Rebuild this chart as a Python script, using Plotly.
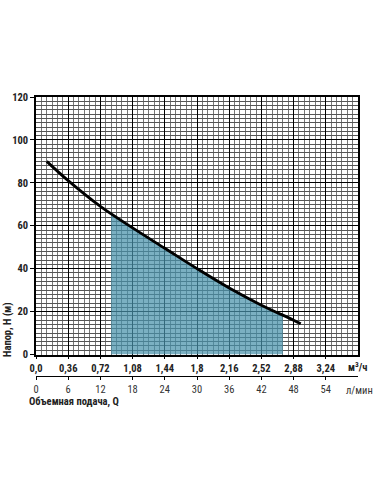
import plotly.graph_objects as go

# Performance curve (Q in m3/h, H in m)
q_curve = [0.12, 0.36, 0.72, 1.08, 1.44, 1.80, 2.16, 2.52, 2.88, 2.96]
h_curve = [90, 81, 69, 59, 49.5, 40, 31, 23, 16, 14.3]

# Recommended working range (shaded)
q_fill = [0.84, 1.08, 1.44, 1.80, 2.16, 2.52, 2.76]
h_fill = [65.5, 59, 49.5, 40, 31, 23, 18.5]

x_ticks = [0, 0.36, 0.72, 1.08, 1.44, 1.80, 2.16, 2.52, 2.88, 3.24]
x_ticktext = ["0,0", "0,36", "0,72", "1,08", "1,44", "1,8", "2,16", "2,52", "2,88", "3,24"]
lmin_ticks = [0, 6, 12, 18, 24, 30, 36, 42, 48, 54]
y_ticks = [0, 20, 40, 60, 80, 100, 120]

FONT = "Liberation Sans Narrow, Roboto Condensed, Roboto, sans-serif"
FS = 10.5
W, H = 381, 492
L, R, T, B = 36, 23, 97, 116
plot_h = H - T - B
ydom0 = (H - B - 354.5) / plot_h

fig = go.Figure()
fig.add_trace(go.Scatter(x=q_fill, y=h_fill, mode="lines", line=dict(width=0, shape="spline"),
                         fill="tozeroy", fillcolor="rgba(72,145,170,0.72)", hoverinfo="skip",
                         showlegend=False))
fig.add_trace(go.Scatter(x=q_curve, y=h_curve, mode="lines",
                         line=dict(color="black", width=2.8, shape="spline"), showlegend=False))
# invisible trace to bind the l/min axis
fig.add_trace(go.Scatter(x=[0, 60], y=[None, None], xaxis="x2", yaxis="y", mode="lines",
                         showlegend=False, hoverinfo="skip"))

fig.update_layout(
    width=W, height=H, margin=dict(l=L, r=R, t=T, b=B, autoexpand=False),
    paper_bgcolor="white", plot_bgcolor="white",
    font=dict(family=FONT, color="#222"),
    xaxis=dict(range=[0, 3.6], tickvals=x_ticks, ticktext=x_ticktext, automargin=False,
               tickfont=dict(size=FS, family=FONT, weight="bold", color="#222"),
               showline=True, linecolor="black", linewidth=1.6, mirror=True,
               ticks="outside", ticklen=3, tickcolor="black", tickwidth=1.2,
               showgrid=True, gridcolor="black", gridwidth=1.4,
               minor=dict(dtick=0.06, tick0=0, showgrid=True, gridcolor="#777", gridwidth=0.9),
               zeroline=False, anchor="y", fixedrange=True),
    yaxis=dict(range=[0, 120], tickvals=y_ticks, domain=[ydom0, 1], automargin=False,
               tickfont=dict(size=FS, family=FONT, weight="bold", color="#222"),
               showline=True, linecolor="black", linewidth=1.6, mirror=True,
               ticks="outside", ticklen=4, tickcolor="black", tickwidth=1.2,
               showgrid=True, gridcolor="black", gridwidth=1.4,
               minor=dict(dtick=2, tick0=0, showgrid=True, gridcolor="#555", gridwidth=0.7),
               zeroline=False, fixedrange=True),
    xaxis2=dict(range=[0, 60], tickvals=lmin_ticks, overlaying="x", anchor="free", position=0,
                side="bottom", showgrid=False, zeroline=False, automargin=False,
                tickfont=dict(size=FS, family=FONT, color="#333"),
                showline=True, linecolor="black", linewidth=1.4,
                ticks="outside", ticklen=3, tickcolor="black", tickwidth=1.2, fixedrange=True),
)

pw = W - L - R
def px(x):
    return (x - L) / pw
def py(y):
    return (H - B - y) / plot_h

def ann(text, x, y, bold=True, xanchor="center", angle=0, color="#222"):
    fig.add_annotation(text=text, x=px(x), y=py(y), xref="paper", yref="paper",
                       xanchor=xanchor, yanchor="middle", textangle=angle, showarrow=False,
                       font=dict(size=FS, family=FONT, weight="bold" if bold else "normal",
                                 color=color))

ann("м<sup>3</sup>/ч", 357, 367)
ann("л/мин", 360, 390, bold=False, color="#333")
ann("Объемная подача, Q", 27, 401, xanchor="left")
ann("Напор, Н (м)", 7, 330, angle=-90)

fig.write_html("out.html", post_script="document.body.style.margin='0';",
               config={"displayModeBar": False})
